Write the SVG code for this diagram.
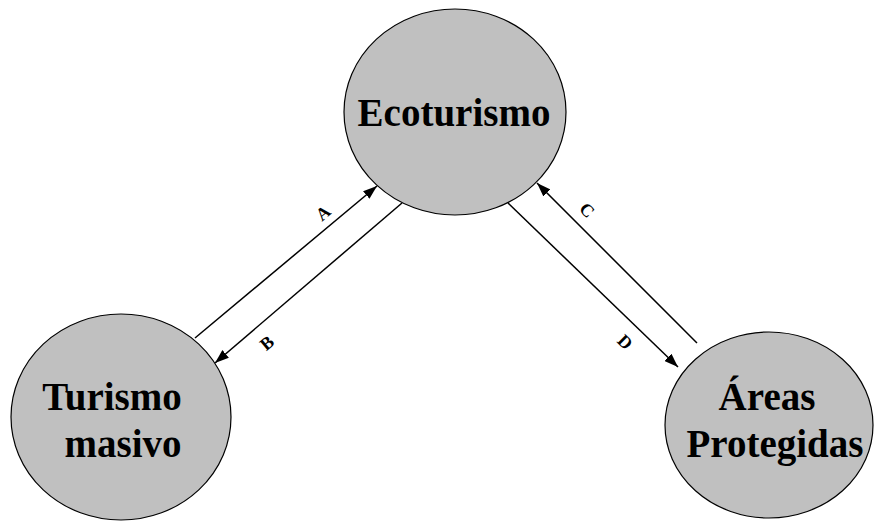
<svg xmlns="http://www.w3.org/2000/svg" width="875" height="523" viewBox="0 0 875 523">
  <style>
    .node { fill: #c0c0c0; stroke: #000; stroke-width: 1.2; }
    .title { font-family: "Liberation Serif", "Times New Roman", serif; font-weight: bold; font-size: 39px; fill: #000; text-anchor: middle; }
    .edge { stroke: #000; stroke-width: 1.5; fill: none; marker-end: url(#arrow); }
    .lbl { font-family: "Liberation Serif", "Times New Roman", serif; font-weight: bold; font-size: 18px; fill: #000; text-anchor: middle; dominant-baseline: central; }
  </style>
  <defs>
    <marker id="arrow" viewBox="0 0 14 10" refX="14" refY="5" markerWidth="14" markerHeight="10" markerUnits="userSpaceOnUse" orient="auto">
      <path d="M0,0 L14,5 L0,10 Z" fill="#000"/>
    </marker>
  </defs>
  <rect width="875" height="523" fill="#fff"/>

  <!-- connectors with their letter labels -->
  <g id="connectors">
    <line class="edge" x1="195" y1="338" x2="377" y2="186"/>
    <line class="edge" x1="402" y1="203" x2="215" y2="363"/>
    <line class="edge" x1="697" y1="343" x2="537" y2="183"/>
    <line class="edge" x1="508" y1="203" x2="678" y2="367"/>
    <text class="lbl" transform="translate(323,213) rotate(-40)">A</text>
    <text class="lbl" transform="translate(267,343) rotate(-40)">B</text>
    <text class="lbl" transform="translate(587,210) rotate(45)">C</text>
    <text class="lbl" transform="translate(625,342) rotate(45)">D</text>
  </g>

  <g id="ecoturismo">
    <ellipse class="node" cx="455" cy="112" rx="111" ry="103"/>
    <text class="title" x="454" y="126" font-size="40">Ecoturismo</text>
  </g>

  <g id="turismo-masivo">
    <ellipse class="node" cx="121" cy="417" rx="110" ry="103"/>
    <text class="title" x="112" y="410">Turismo</text>
    <text class="title" x="123" y="457">masivo</text>
  </g>

  <g id="areas-protegidas">
    <ellipse class="node" cx="769" cy="425" rx="104" ry="93"/>
    <text class="title" x="767" y="410">Áreas</text>
    <text class="title" x="775" y="457">Protegidas</text>
  </g>
</svg>
